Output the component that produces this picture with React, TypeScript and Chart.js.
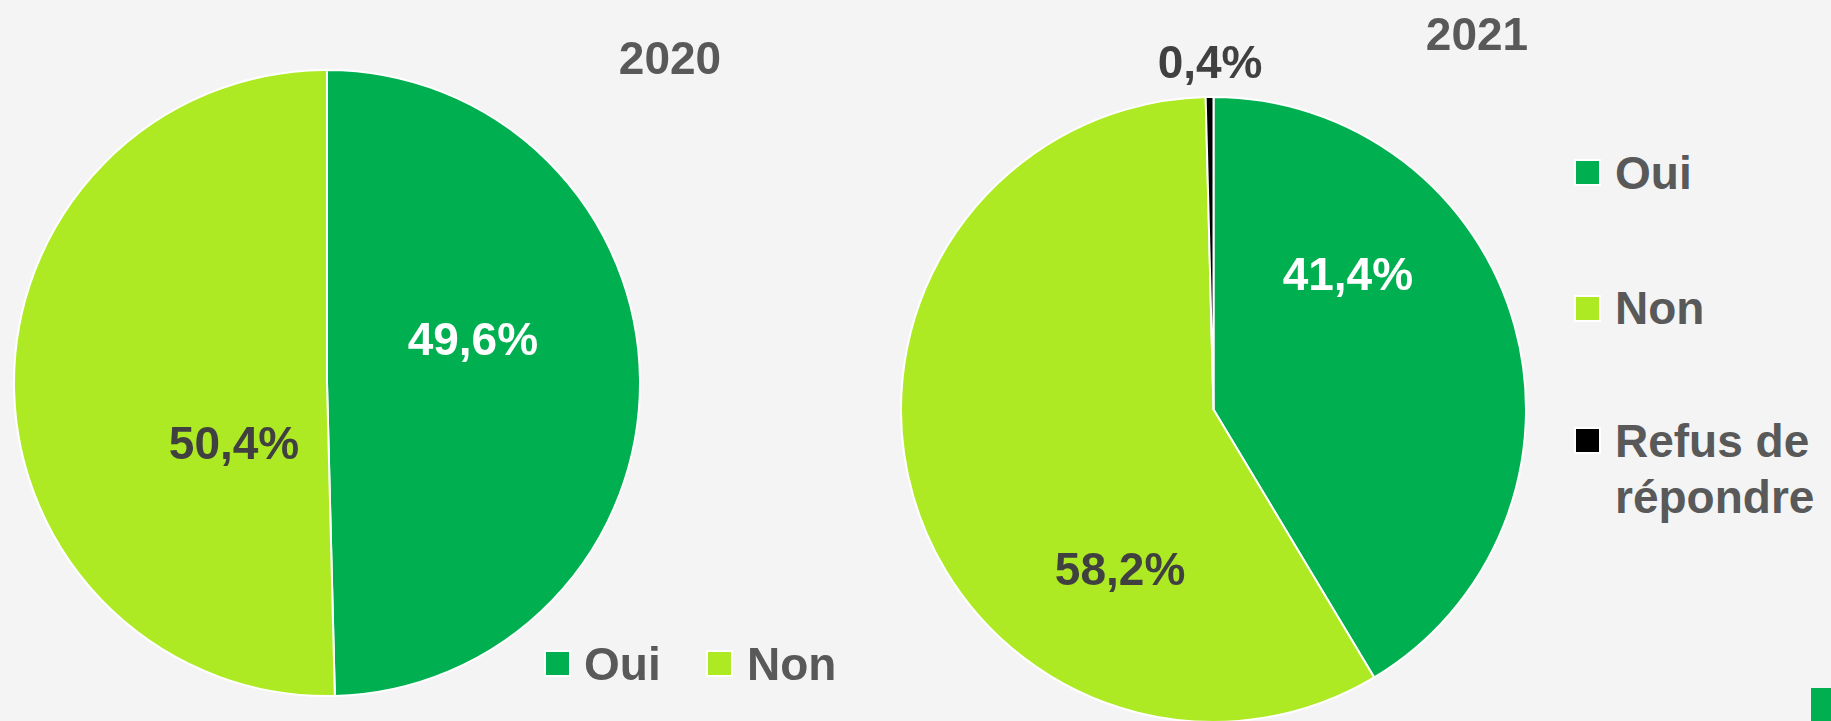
import React, { useEffect, useRef } from "react";
import { Chart, registerables } from "chart.js";

Chart.register(...registerables);

const categories2020 = ["Oui", "Non"];
const values2020 = [49.6, 50.4];
const categories2021 = ["Oui", "Non", "Refus de répondre"];
const values2021 = [41.4, 58.2, 0.4];
const sliceColors = ["#00B050", "#ADEA23", "#000000"];
const labelColors2020 = ["#FFFFFF", "#404040"];
const labelColors2021 = ["#FFFFFF", "#404040", "#404040"];
// label placement as fractions of the radius from the pie centre
const labelOffsets2020 = [[0.466, -0.137], [-0.297, 0.195]];
const labelOffsets2021 = [[0.43, -0.429], [-0.299, 0.515], [-0.011, -1.107]];

const FONT = "'Liberation Sans', Arial, sans-serif";
const BG = "#F4F4F4";
const TEXT = "#595959";

const fmt = (v: number) => v.toFixed(1).replace(".", ",") + "%";

function makeLabelPlugin(offsets: number[][], colors: string[]) {
  return {
    id: "sliceLabels",
    afterDatasetsDraw(chart: any) {
      const ctx = chart.ctx;
      const meta = chart.getDatasetMeta(0);
      const data = chart.data.datasets[0].data as number[];
      ctx.save();
      ctx.font = `bold 46px ${FONT}`;
      ctx.textAlign = "center";
      ctx.textBaseline = "middle";
      meta.data.forEach((arc: any, i: number) => {
        const r = arc.outerRadius;
        const x = arc.x + offsets[i][0] * r;
        const y = arc.y + offsets[i][1] * r;
        ctx.fillStyle = colors[i];
        ctx.fillText(fmt(data[i]), x, y + 2);
      });
      ctx.restore();
    },
  };
}

function PieCanvas(props: {
  labels: string[];
  values: number[];
  offsets: number[][];
  labelColors: string[];
  width: number;
  height: number;
  padTop: number;
  style: React.CSSProperties;
}) {
  const ref = useRef<HTMLCanvasElement | null>(null);
  useEffect(() => {
    if (!ref.current) return;
    const chart = new Chart(ref.current, {
      type: "pie",
      data: {
        labels: props.labels,
        datasets: [
          {
            data: props.values,
            backgroundColor: sliceColors.slice(0, props.values.length),
            borderColor: "#FFFFFF",
            borderWidth: 2,
          },
        ],
      },
      options: {
        responsive: false,
        animation: false,
        devicePixelRatio: 1,
        layout: { padding: { top: props.padTop, left: 0, right: 0, bottom: 0 } },
        plugins: {
          legend: { display: false },
          tooltip: { enabled: false },
          title: { display: false },
        },
      },
      plugins: [makeLabelPlugin(props.offsets, props.labelColors)],
    });
    return () => chart.destroy();
  }, []);
  return (
    <canvas
      ref={ref}
      width={props.width}
      height={props.height}
      style={{ position: "absolute", width: props.width, height: props.height, ...props.style }}
    />
  );
}

function LegendItem(props: { color: string; text: string; left: number; top: number }) {
  return (
    <>
      <div
        style={{
          position: "absolute",
          left: props.left,
          top: props.top,
          width: 23,
          height: 23,
          background: props.color,
          border: "2px solid #FFFFFF",
        }}
      />
    </>
  );
}

const textStyle = (left: number, top: number, extra: React.CSSProperties = {}): React.CSSProperties => ({
  position: "absolute",
  left,
  top,
  fontFamily: FONT,
  fontWeight: "bold",
  fontSize: 46,
  lineHeight: "46px",
  color: TEXT,
  whiteSpace: "nowrap",
  ...extra,
});

export default function App() {
  useEffect(() => {
    document.body.style.margin = "0";
  }, []);
  return (
    <div
      style={{
        position: "fixed",
        left: 0,
        top: 0,
        width: 1831,
        height: 721,
        overflow: "hidden",
        background: BG,
      }}
    >
      <PieCanvas
        labels={categories2020}
        values={values2020}
        offsets={labelOffsets2020}
        labelColors={labelColors2020}
        width={628}
        height={628}
        padTop={0}
        style={{ left: 13, top: 69 }}
      />
      <PieCanvas
        labels={categories2021}
        values={values2021}
        offsets={labelOffsets2021}
        labelColors={labelColors2021}
        width={627}
        height={693}
        padTop={66}
        style={{ left: 900, top: 30 }}
      />

      <div style={textStyle(615, 35, { width: 110, textAlign: "center" })}>2020</div>
      <div style={textStyle(1422, 11, { width: 110, textAlign: "center" })}>2021</div>

      {/* 2020 legend */}
      <LegendItem color={sliceColors[0]} text={categories2020[0]} left={544} top={650} />
      <div style={textStyle(584, 641)}>{categories2020[0]}</div>
      <LegendItem color={sliceColors[1]} text={categories2020[1]} left={706} top={650} />
      <div style={textStyle(747, 641)}>{categories2020[1]}</div>

      {/* 2021 legend */}
      <LegendItem color={sliceColors[0]} text={categories2021[0]} left={1574} top={159} />
      <div style={textStyle(1615, 150)}>{categories2021[0]}</div>
      <LegendItem color={sliceColors[1]} text={categories2021[1]} left={1574} top={295} />
      <div style={textStyle(1615, 285)}>{categories2021[1]}</div>
      <LegendItem color={sliceColors[2]} text={categories2021[2]} left={1574} top={427} />
      <div style={textStyle(1615, 418, { lineHeight: "56px", top: 413 })}>
        Refus de
        <br />
        répondre
      </div>

      <div
        style={{
          position: "absolute",
          left: 1811,
          top: 688,
          width: 20,
          height: 33,
          background: sliceColors[0],
        }}
      />
    </div>
  );
}
